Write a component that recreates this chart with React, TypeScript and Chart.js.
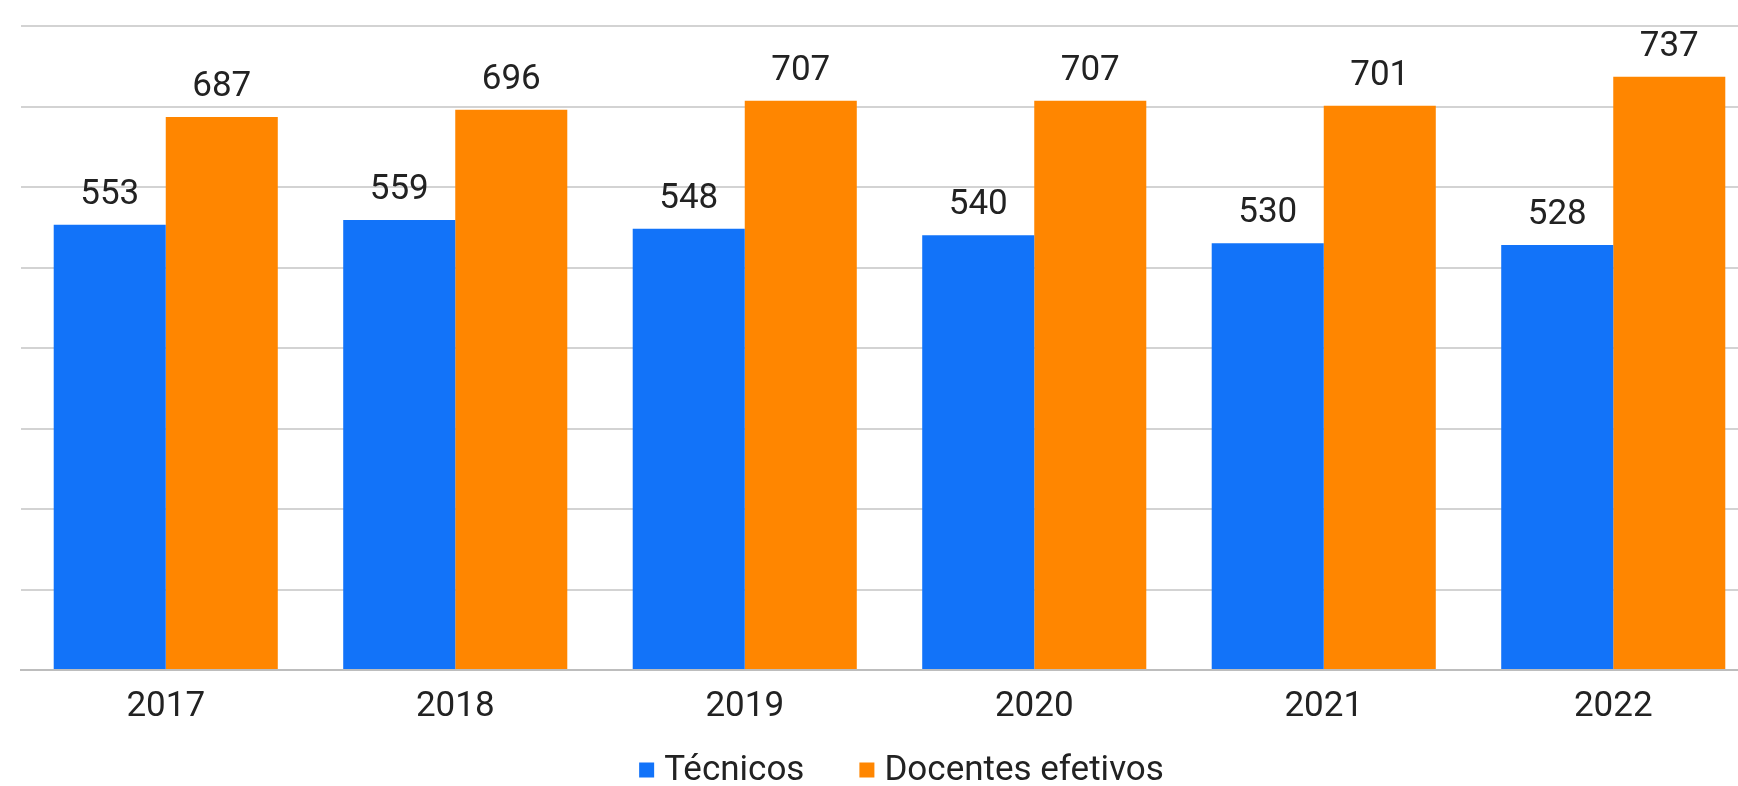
import React, { useEffect, useRef } from "react";
import { Chart, registerables } from "chart.js";

Chart.register(...registerables);

const years = ["2017", "2018", "2019", "2020", "2021", "2022"];
const tecnicos = [553, 559, 548, 540, 530, 528];
const docentes = [687, 696, 707, 707, 701, 737];
const seriesNames = ["Técnicos", "Docentes efetivos"];
const yMax = 800;
const yStep = 100;

const BLUE = "#1273F9";
const ORANGE = "#FF8600";
const TEXT = "#222222";
const FONT = "Roboto, 'Noto Sans', 'DejaVu Sans', sans-serif";
const FS = 35;

const valueLabels = {
  id: "valueLabels",
  afterDatasetsDraw(chart: any) {
    const ctx = chart.ctx;
    ctx.save();
    ctx.font = `${FS}px ${FONT}`;
    ctx.fillStyle = TEXT;
    ctx.textAlign = "center";
    ctx.textBaseline = "alphabetic";
    chart.data.datasets.forEach((ds: any, i: number) => {
      const meta = chart.getDatasetMeta(i);
      meta.data.forEach((bar: any, j: number) => {
        ctx.fillText(String(ds.data[j]), bar.x, bar.y - 21);
      });
    });
    ctx.restore();
  },
};

const bottomLegend = {
  id: "bottomLegend",
  afterDraw(chart: any) {
    const ctx = chart.ctx;
    const area = chart.chartArea;
    ctx.save();
    ctx.font = `${FS}px ${FONT}`;
    const box = 15;
    const gap = 10;
    const itemGap = 55;
    const items = chart.data.datasets.map((ds: any) => ({
      text: ds.label,
      color: ds.backgroundColor,
      w: ctx.measureText(ds.label).width,
    }));
    const total =
      items.reduce((s: number, it: any) => s + box + gap + it.w, 0) +
      itemGap * (items.length - 1);
    let x = (area.left + area.right) / 2 + 12 - total / 2;
    const cy = chart.height - 16;
    ctx.textAlign = "left";
    ctx.textBaseline = "middle";
    items.forEach((it: any) => {
      ctx.fillStyle = it.color;
      ctx.fillRect(x, cy - box / 2, box, box);
      ctx.fillStyle = TEXT;
      ctx.fillText(it.text, x + box + gap, cy + 1);
      x += box + gap + it.w + itemGap;
    });
    ctx.restore();
  },
};

export default function App() {
  const canvasRef = useRef<HTMLCanvasElement | null>(null);

  useEffect(() => {
    if (!canvasRef.current) return;
    const chart = new Chart(canvasRef.current, {
      type: "bar",
      data: {
        labels: years,
        datasets: [
          {
            label: seriesNames[0],
            data: tecnicos,
            backgroundColor: BLUE,
            borderWidth: 0,
          },
          {
            label: seriesNames[1],
            data: docentes,
            backgroundColor: ORANGE,
            borderWidth: 0,
          },
        ],
      },
      options: {
        responsive: false,
        animation: false,
        layout: { padding: { top: 26, left: 21, right: 22, bottom: 42 } },
        datasets: {
          bar: { categoryPercentage: 0.774, barPercentage: 1.0 },
        },
        plugins: {
          legend: { display: false },
          tooltip: { enabled: false },
        },
        scales: {
          x: {
            grid: { display: false, drawTicks: false },
            border: { display: true, color: "#bdbdbd", width: 2 },
            ticks: {
              color: TEXT,
              padding: 16,
              font: { family: FONT, size: FS },
            },
          },
          y: {
            min: 0,
            max: yMax,
            ticks: { display: false, stepSize: yStep },
            grid: { color: "#d3d3d3", lineWidth: 2, drawTicks: false },
            border: { display: false },
          },
        },
      },
      plugins: [valueLabels, bottomLegend],
    });
    return () => chart.destroy();
  }, []);

  return (
    <div
      style={{
        position: "fixed",
        left: 0,
        top: 0,
        width: 1738,
        height: 786,
        overflow: "hidden",
        background: "#ffffff",
      }}
    >
      <canvas
        ref={canvasRef}
        width={1780}
        height={786}
        style={{ position: "absolute", left: 0, top: 0, width: 1780, height: 786 }}
      />
    </div>
  );
}
